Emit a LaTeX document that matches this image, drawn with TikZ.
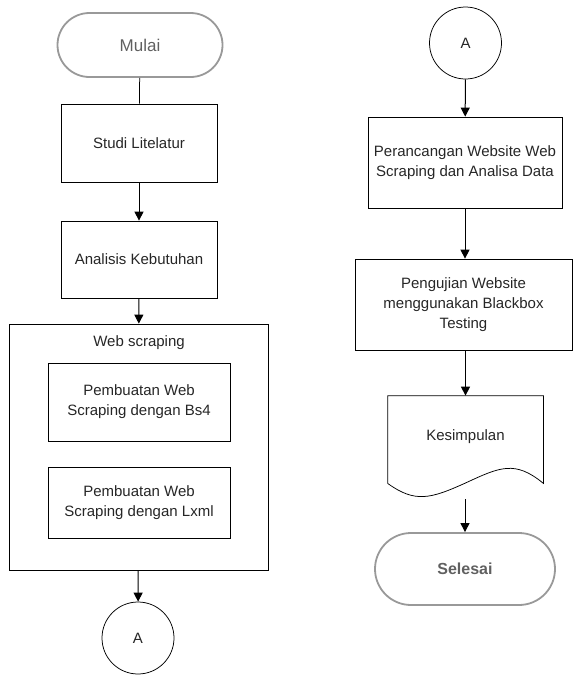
\documentclass[tikz,border=0pt]{standalone}
\usepackage{fontspec}
\setmainfont{Liberation Sans}
\usetikzlibrary{arrows.meta}

\tikzset{every picture/.style={line width=0.75pt}}
\tikzset{
  proses/.style={draw, rectangle, align=center, text=black!85, font=\fontsize{15}{20}\selectfont},
  terminal/.style={draw=gray!80, line width=1.8pt, rectangle, rounded corners=32pt, minimum width=165pt, minimum height=64pt, text=gray!75!black, font=\fontsize{17}{20}\selectfont},
  konektor/.style={draw, circle, minimum size=72pt, inner sep=0pt, text=black!85, font=\fontsize{15}{18}\selectfont},
  panah/.style={-{Triangle[length=9pt,width=9pt]}, line width=1pt}
}

\begin{document}
\begin{tikzpicture}[x=1pt,y=1pt,yscale=-1,xscale=1]
\useasboundingbox (0,0) rectangle (573,675);

% kolom kiri
\node [terminal] (mulai) at (140,45) {Mulai};
\node [proses, minimum width=156pt, minimum height=78pt] (studi) at (139,143) {Studi Litelatur};
\node [proses, minimum width=156pt, minimum height=77pt] (analisis) at (139,259.5) {Analisis Kebutuhan};
\node [draw, rectangle, minimum width=259pt, minimum height=246pt] (web) at (138.5,447) {};
\node [text=black!85, font=\fontsize{15}{18}\selectfont] (weblabel) at (139,343) {Web scraping};
\node [proses, minimum width=182pt, minimum height=78pt] (bsempat) at (139,402) {Pembuatan Web\\Scraping dengan Bs4};
\node [proses, minimum width=182pt, minimum height=71pt] (lxml) at (139,502.5) {Pembuatan Web\\Scraping dengan Lxml};
\node [konektor] (akiri) at (138,638) {A};

% kolom kanan
\node [konektor] (akanan) at (465.5,43) {A};
\node [proses, minimum width=194pt, minimum height=91pt] (rancang) at (465,162.5) {Perancangan Website Web\\Scraping dan Analisa Data};
\node [proses, minimum width=217pt, minimum height=91pt] (uji) at (463.5,304.5) {Pengujian Website\\menggunakan Blackbox\\Testing};
\node [rectangle, minimum width=155pt, minimum height=87pt, text=black!85, font=\fontsize{15}{18}\selectfont] (simpul) at (465.5,439.5) {\raisebox{8pt}{Kesimpulan}};
\draw (simpul.south west) -- (simpul.north west) -- (simpul.north east) -- (simpul.south east)
  .. controls (515,460) and (500,467) .. (465.5,483)
  .. controls (430,499) and (415,503) .. (simpul.south west) ;
\coordinate (simpulout) at (465,499);
\node [terminal, minimum width=180pt, minimum height=72pt, rounded corners=36pt, font=\bfseries\fontsize{16}{19}\selectfont] (selesai) at (465,569) {Selesai};

% alur
\draw (mulai) -- (studi) ;
\draw [panah] (studi) -- (analisis) ;
\draw [panah] (analisis) -- (web) ;
\draw [panah] (web) -- (akiri) ;
\draw [panah] (akanan) -- (rancang) ;
\draw [panah] (rancang) -- (rancang |- uji.north) ;
\draw [panah] (uji.south -| simpul) -- (simpul.north) ;
\draw [panah] (simpulout) -- (selesai) ;

\end{tikzpicture}
\end{document}
